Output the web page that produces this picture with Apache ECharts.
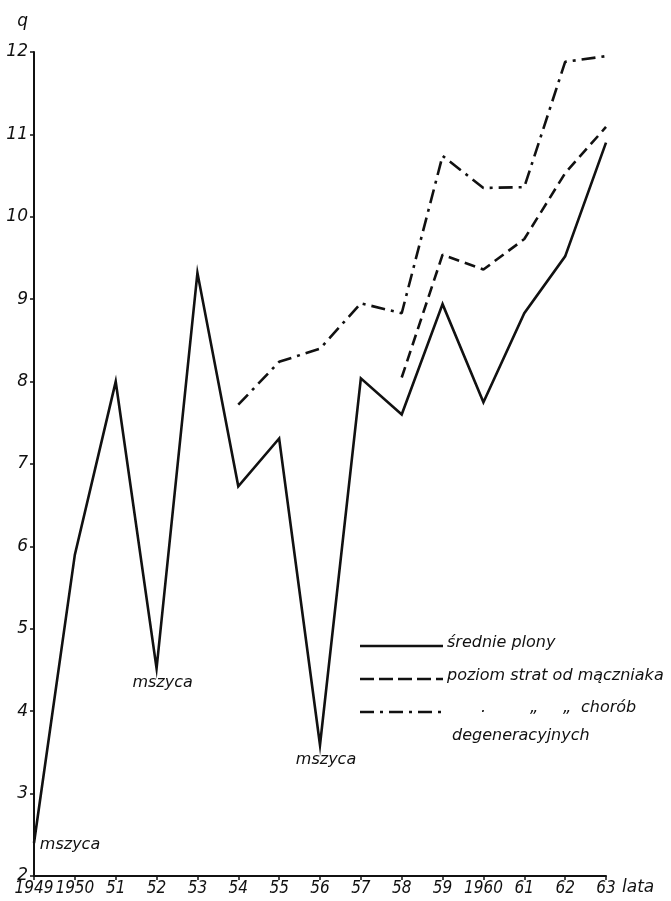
<!DOCTYPE html>
<html>
<head>
<meta charset="utf-8">
<script src="https://cdn.jsdelivr.net/npm/echarts@6/dist/echarts.min.js"></script>
<style>
  html, body { margin: 0; padding: 0; background: #fff; }
  #chart { width: 671px; height: 901px; }
</style>
</head>
<body>
<div id="chart"></div>
<script>
// lata 1949-1963, plony w q/ha
var years = ['1949', '1950', '51', '52', '53', '54', '55', '56', '57', '58', '59', '1960', '61', '62', '63']
var plony = [2.4, 5.9, 8.0, 4.52, 9.32, 6.73, 7.31, 3.59, 8.04, 7.6, 8.94, 7.75, 8.83, 9.52, 10.9]
var maczniak = [null, null, null, null, null, null, null, null, null, 8.05, 9.54, 9.36, 9.73, 10.53, 11.09]
var degeneracja = [null, null, null, null, null, 7.72, 8.24, 8.4, 8.95, 8.83, 10.74, 10.35, 10.36, 11.88, 11.95]
// lata z mszycą
var mszycaYears = ['1949', '52', '56']

var FONT = "'DejaVu Sans', sans-serif"
var NARROW = "'DejaVu Sans Condensed', 'Liberation Sans Narrow', 'DejaVu Sans', sans-serif"
var ink = '#111'
var DASH = [11, 6]
var DASHDOT = [14, 6, 3, 6]

var mszycaOffsets = {'1949': [36, 2], '52': [6, 14], '56': [6, 15]}

function mszycaPoints() {
    return mszycaYears.map(y => {
        let i = years.indexOf(y)
        return {
            coord: [y, plony[i]],
            label: { offset: mszycaOffsets[y] }
        }
    })
}

// legenda rysowana ręcznie, jak w oryginale
function legendGraphic() {
    let txt = (x, y, s) => ({
        type: 'text', left: x, top: y,
        style: { text: s, font: 'italic 16px ' + FONT, fill: ink }
    })
    let ln = (y, dash) => ({
        type: 'line',
        shape: { x1: 360, y1: y, x2: 443, y2: y },
        style: { stroke: ink, lineWidth: 2.6, lineDash: dash }
    })
    return [
        ln(646, null), txt(447, 635, 'średnie plony'),
        ln(679, [14, 5]), txt(447, 668, 'poziom strat od mączniaka'),
        ln(712, DASHDOT),
        txt(481, 700, '.'), txt(530, 700, '„'), txt(563, 700, '„'),
        txt(581, 700, 'chorób'),
        txt(452, 728, 'degeneracyjnych')
    ]
}

var chart = echarts.init(document.getElementById('chart'))

chart.setOption({
    animation: false,
    backgroundColor: '#fff',
    textStyle: { fontFamily: FONT, fontStyle: 'italic', color: ink },
    grid: { left: 34, right: 65, top: 52, bottom: 25, containLabel: false },
    graphic: legendGraphic(),
    xAxis: {
        type: 'category',
        data: years,
        boundaryGap: false,
        name: 'lata',
        nameLocation: 'end',
        nameGap: 16,
        nameTextStyle: { fontSize: 17, fontStyle: 'italic', fontFamily: FONT, color: ink, verticalAlign: 'top', padding: [3, 0, 0, 0] },
        axisLine: { lineStyle: { color: ink, width: 2 } },
        axisTick: { show: true, length: 4, inside: false, lineStyle: { color: ink, width: 1.5 } },
        axisLabel: { fontSize: 17, margin: 4, color: ink, fontStyle: 'italic', fontFamily: NARROW, interval: 0 },
        splitLine: { show: false }
    },
    yAxis: {
        type: 'value',
        min: 2,
        max: 12,
        interval: 1,
        name: 'q',
        nameLocation: 'end',
        nameGap: 22,
        nameTextStyle: { fontSize: 17, fontStyle: 'italic', fontFamily: FONT, color: ink, align: 'right', padding: [0, 6, 0, 0] },
        axisLine: { show: true, lineStyle: { color: ink, width: 2 } },
        axisTick: { show: true, length: 4, lineStyle: { color: ink, width: 1.5 } },
        axisLabel: { fontSize: 17, margin: 6, color: ink, fontStyle: 'italic', fontFamily: FONT },
        splitLine: { show: false }
    },
    series: [
        {
            name: 'średnie plony',
            type: 'line',
            data: plony,
            symbol: 'none',
            lineStyle: { color: ink, width: 2.6, type: 'solid', join: 'miter' },
            itemStyle: { color: ink },
            markPoint: {
                symbol: 'circle',
                symbolSize: 0,
                label: {
                    show: true,
                    formatter: 'mszyca',
                    fontSize: 16,
                    fontStyle: 'italic',
                    fontFamily: FONT,
                    color: ink
                },
                data: mszycaPoints()
            }
        },
        {
            name: 'poziom strat od mączniaka',
            type: 'line',
            data: maczniak,
            symbol: 'none',
            lineStyle: { color: ink, width: 2.6, type: DASH },
            itemStyle: { color: ink }
        },
        {
            name: 'chorób degeneracyjnych',
            type: 'line',
            data: degeneracja,
            symbol: 'none',
            lineStyle: { color: ink, width: 2.6, type: DASHDOT },
            itemStyle: { color: ink }
        }
    ]
})
</script>
</body>
</html>
